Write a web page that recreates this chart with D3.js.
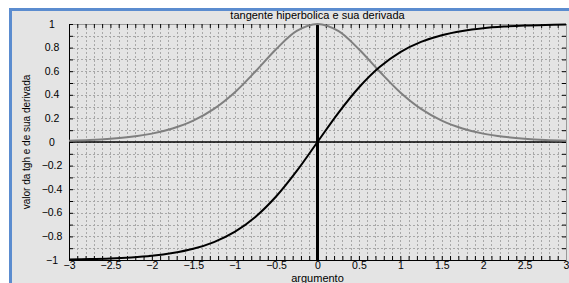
<!DOCTYPE html>
<html>
<head>
<meta charset="utf-8">
<script src="https://cdn.jsdelivr.net/npm/d3@7"></script>
<style>
  body { margin: 0; background: #fff; }
  svg { display: block; font-family: "Liberation Sans", Arial, sans-serif; }
</style>
</head>
<body>
<svg id="chart"></svg>
<script>
// valores (passo 0.25)
var xValues = [-3, -2.75, -2.5, -2.25, -2, -1.75, -1.5, -1.25, -1, -0.75, -0.5, -0.25, 0,
	0.25, 0.5, 0.75, 1, 1.25, 1.5, 1.75, 2, 2.25, 2.5, 2.75, 3];
var tghValues = [-0.995, -0.992, -0.987, -0.978, -0.964, -0.941, -0.905, -0.848, -0.762, -0.635, -0.462, -0.245, 0,
	0.245, 0.462, 0.635, 0.762, 0.848, 0.905, 0.941, 0.964, 0.978, 0.987, 0.992, 0.995];
var derivValues = [0.010, 0.016, 0.027, 0.044, 0.071, 0.115, 0.181, 0.281, 0.420, 0.597, 0.786, 0.941, 1,
	0.941, 0.786, 0.597, 0.420, 0.281, 0.181, 0.115, 0.071, 0.044, 0.027, 0.016, 0.010];
var xTicks = [-3, -2.5, -2, -1.5, -1, -0.5, 0, 0.5, 1, 1.5, 2, 2.5, 3];
var yTicks = [-1, -0.8, -0.6, -0.4, -0.2, 0, 0.2, 0.4, 0.6, 0.8, 1];
var titleText = 'tangente hiperbolica e sua derivada';
var xLabel = 'argumento';
var yLabel = 'valor da tgh e de sua derivada';

var W = 569, H = 283;
var margin = {top: 24, right: 3, bottom: 23, left: 69},
	width = W - margin.left - margin.right,
	height = H - margin.top - margin.bottom;

var svg = d3.select('#chart')
	.attr('width', W)
	.attr('height', H);

// fundo cinza e moldura azul
svg.append('rect')
	.attr('x', 11).attr('y', 10)
	.attr('width', W - 11).attr('height', H - 10)
	.style('fill', '#e4e4e4');
svg.append('path')
	.attr('d', 'M10.5,' + H + 'V9.5H' + W)
	.style('fill', 'none')
	.style('stroke', '#5b8ccf')
	.style('stroke-width', 3);

var x = d3.scaleLinear().domain([-3, 3]).range([0, width]);
var y = d3.scaleLinear().domain([-1, 1]).range([height, 0]);

var g = svg.append('g')
	.attr('transform', 'translate(' + margin.left + ',' + margin.top + ')');

// grade pontilhada a cada 0.1
var gridX = d3.range(-30, 31).map(function(d) { return d / 10; });
var gridY = d3.range(-10, 11).map(function(d) { return d / 10; });

g.append('g').selectAll('line')
	.data(gridX)
	.enter().append('line')
	.attr('x1', function(d) { return Math.round(x(d)) + 0.5; })
	.attr('x2', function(d) { return Math.round(x(d)) + 0.5; })
	.attr('y1', 0).attr('y2', height)
	.style('stroke', '#a8a8a8')
	.style('stroke-width', 1)
	.style('stroke-dasharray', '2,2');

g.append('g').selectAll('line')
	.data(gridY)
	.enter().append('line')
	.attr('y1', function(d) { return Math.round(y(d)) + 0.5; })
	.attr('y2', function(d) { return Math.round(y(d)) + 0.5; })
	.attr('x1', 0).attr('x2', width)
	.style('stroke', '#a8a8a8')
	.style('stroke-width', 1)
	.style('stroke-dasharray', '2,2');

// eixos
var xAxis = d3.axisBottom(x).tickValues(gridX).tickSize(-4).tickFormat(function(d) {
	return xTicks.indexOf(d) >= 0 ? d3.format('')(d) : '';
});
var xTop = d3.axisTop(x).tickValues(gridX).tickSize(-4).tickFormat('');
var yAxis = d3.axisLeft(y).tickValues(gridY).tickSize(-4).tickFormat('');
var yRight = d3.axisRight(y).tickValues(gridY).tickSize(-4).tickFormat('');

function styleAxis(sel) {
	sel.selectAll('path').style('stroke', '#000').style('stroke-width', 1);
	sel.selectAll('line').style('stroke', '#000');
	sel.selectAll('text').style('font-size', '10.5px').style('fill', '#000');
}

g.append('g').attr('transform', 'translate(0,' + height + ')').call(xAxis).call(styleAxis)
	.selectAll('text').attr('y', 2).attr('dy', '0.71em');
g.append('g').call(xTop).call(styleAxis).select('path').style('stroke', '#999');
g.append('g').call(yAxis).call(styleAxis);
g.append('g').attr('transform', 'translate(' + width + ',0)').call(yRight).call(styleAxis)
	.select('path').style('stroke', '#999');

// rotulos do eixo y centralizados
g.append('g').selectAll('text')
	.data(yTicks)
	.enter().append('text')
	.attr('x', -17)
	.attr('y', function(d) { return y(d); })
	.attr('dy', '0.35em')
	.attr('text-anchor', 'middle')
	.style('font-size', '10.5px')
	.text(function(d) { return d3.format('')(d); });

// linhas de referencia
g.append('line')
	.attr('x1', 0).attr('x2', width)
	.attr('y1', y(0)).attr('y2', y(0))
	.style('stroke', '#000').style('stroke-width', 1.5);
g.append('line')
	.attr('x1', x(0)).attr('x2', x(0))
	.attr('y1', 0).attr('y2', height)
	.style('stroke', '#000').style('stroke-width', 3);

// curvas
var line = d3.line()
	.x(function(d) { return x(d[0]); })
	.y(function(d) { return y(d[1]); })
	.curve(d3.curveCatmullRom);

g.append('path')
	.datum(d3.zip(xValues, derivValues))
	.attr('d', line)
	.style('fill', 'none')
	.style('stroke', '#7f7f7f')
	.style('stroke-width', 2);

g.append('path')
	.datum(d3.zip(xValues, tghValues))
	.attr('d', line)
	.style('fill', 'none')
	.style('stroke', '#000')
	.style('stroke-width', 2);

// textos
svg.append('text')
	.attr('x', margin.left + width / 2)
	.attr('y', 19)
	.attr('text-anchor', 'middle')
	.style('font-size', '11px')
	.text(titleText);

svg.append('text')
	.attr('x', margin.left + width / 2)
	.attr('y', 282)
	.attr('text-anchor', 'middle')
	.style('font-size', '11px')
	.text(xLabel);

svg.append('text')
	.attr('transform', 'translate(30,' + (margin.top + height / 2) + ') rotate(-90)')
	.attr('text-anchor', 'middle')
	.style('font-size', '10px')
	.text(yLabel);
</script>
</body>
</html>
